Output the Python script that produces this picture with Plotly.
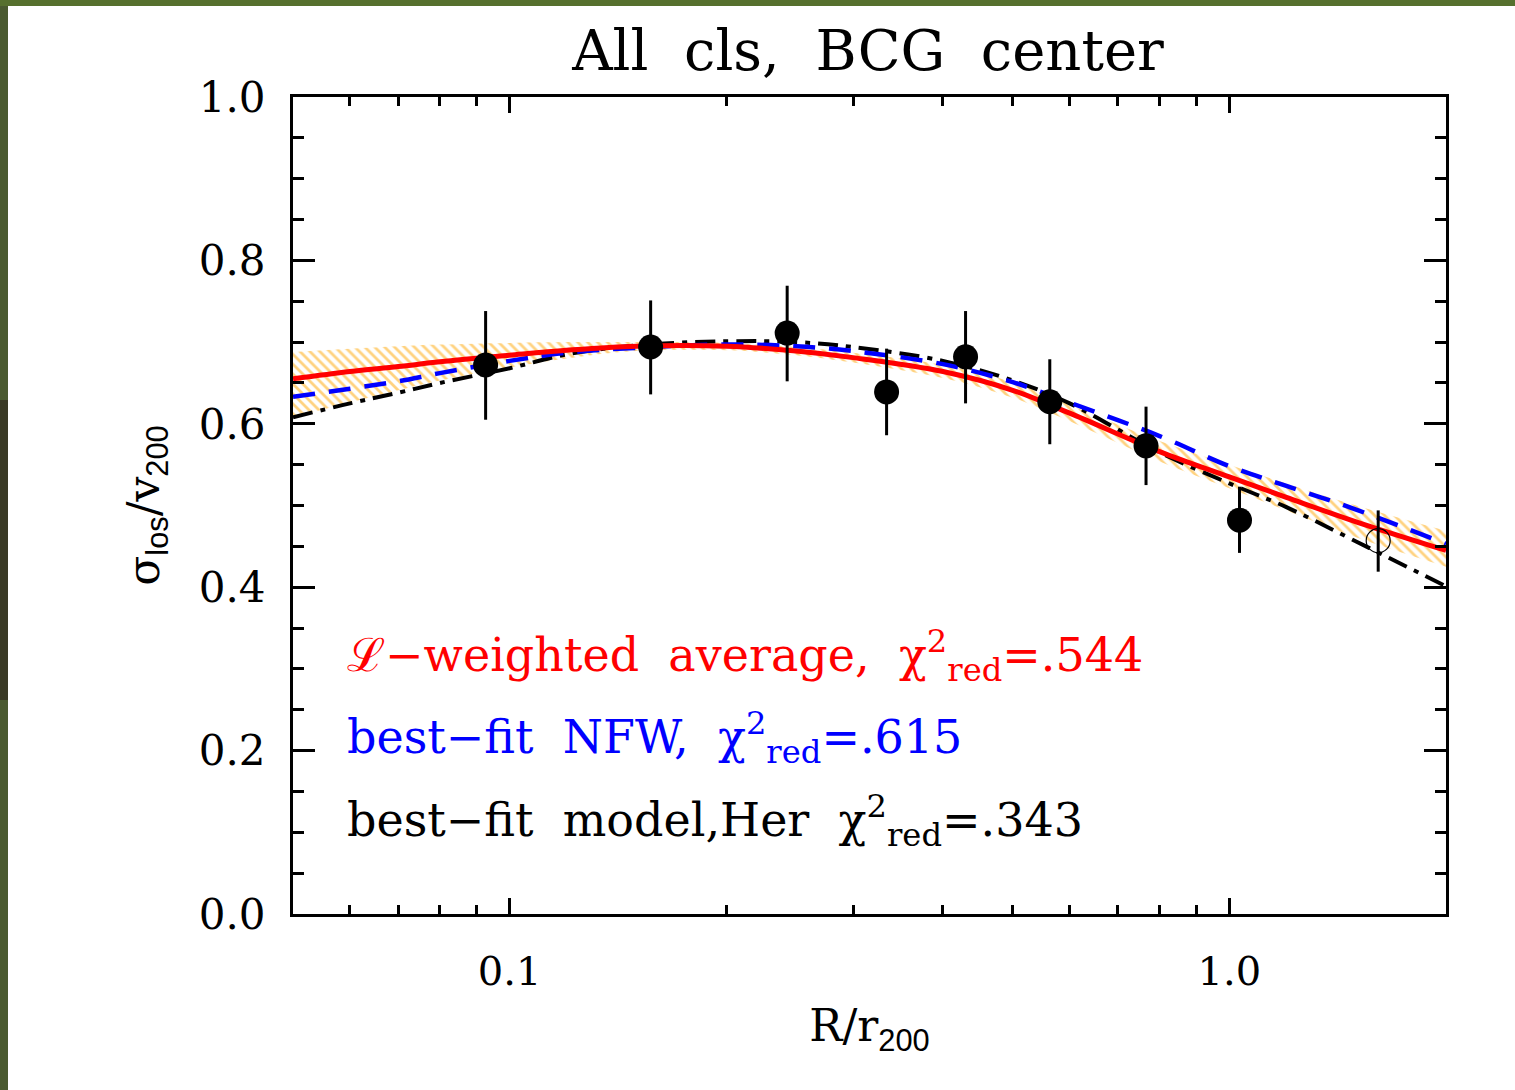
import numpy as np
import plotly.graph_objects as go

# ---------------- data ----------------
r_pts = [0.0926, 0.157, 0.243, 0.334, 0.430, 0.563, 0.766, 1.033]
s_pts = [0.672, 0.694, 0.711, 0.639, 0.682, 0.627, 0.573, 0.482]
err_up = [0.066, 0.057, 0.058, 0.053, 0.056, 0.052, 0.048, 0.041]
err_dn = [0.067, 0.058, 0.059, 0.053, 0.057, 0.052, 0.048, 0.040]

r_open = [1.61]
s_open = [0.457]
err_open_up = [0.037]
err_open_dn = [0.038]

r_grid = [0.05, 0.06, 0.07, 0.08, 0.1, 0.12, 0.15, 0.2, 0.25, 0.3, 0.4, 0.5, 0.6, 0.8, 1.0, 1.2, 1.5, 2.0]
red_avg = [0.655, 0.664, 0.670, 0.676, 0.684, 0.690, 0.695, 0.695, 0.689, 0.681, 0.664, 0.641, 0.613, 0.566, 0.535, 0.510, 0.480, 0.445]
band_hi = [0.688, 0.692, 0.695, 0.697, 0.699, 0.700, 0.700, 0.699, 0.694, 0.687, 0.672, 0.651, 0.623, 0.579, 0.550, 0.527, 0.500, 0.469]
band_lo = [0.608, 0.626, 0.641, 0.653, 0.669, 0.680, 0.689, 0.690, 0.684, 0.675, 0.656, 0.632, 0.603, 0.554, 0.521, 0.494, 0.461, 0.425]
blue_nfw = [0.633, 0.643, 0.652, 0.662, 0.677, 0.687, 0.693, 0.697, 0.695, 0.689, 0.673, 0.651, 0.626, 0.585, 0.548, 0.524, 0.495, 0.453]
black_her = [0.608, 0.625, 0.638, 0.650, 0.668, 0.685, 0.696, 0.701, 0.700, 0.694, 0.677, 0.653, 0.625, 0.565, 0.527, 0.498, 0.456, 0.401]

x_major = [0.1, 1.0]
x_major_text = ["0.1", "1.0"]
x_minor = [0.06, 0.07, 0.08, 0.09, 0.2, 0.3, 0.4, 0.5, 0.6, 0.7, 0.8, 0.9]

NB = "\u00a0"
title_text = f"All {NB}cls, {NB}BCG {NB}center"
chi = "χ<sup>2</sup><sub>red</sub>"
leg_red = f"ℒ−weighted {NB}average, {NB}{chi}=.544"
leg_blue = f"best−fit {NB}NFW, {NB}{chi}=.615"
leg_black = f"best−fit {NB}model,Her {NB}{chi}=.343"

FONT = "DejaVu Serif"

fig = go.Figure()

# hatched band
fig.add_trace(go.Scatter(x=r_grid, y=band_lo, mode="lines", line=dict(width=0, shape="spline"),
                         showlegend=False, hoverinfo="skip"))
fig.add_trace(go.Scatter(x=r_grid, y=band_hi, mode="lines", line=dict(width=0, shape="spline"),
                         fill="tonexty", fillcolor="rgba(0,0,0,0)",
                         fillpattern=dict(shape="\\", fgcolor="#FFA500", bgcolor="rgba(255,255,255,0)",
                                          size=7, solidity=0.4),
                         showlegend=False, hoverinfo="skip"))

fig.add_trace(go.Scatter(x=r_grid, y=black_her, mode="lines",
                         line=dict(color="black", width=4, dash="20px,8px,5px,8px", shape="spline"),
                         showlegend=False))
fig.add_trace(go.Scatter(x=r_grid, y=blue_nfw, mode="lines",
                         line=dict(color="blue", width=4.5, dash="22px,14px", shape="spline"),
                         showlegend=False))
fig.add_trace(go.Scatter(x=r_grid, y=red_avg, mode="lines",
                         line=dict(color="red", width=5, shape="spline"),
                         showlegend=False))

fig.add_trace(go.Scatter(x=r_pts, y=s_pts, mode="markers",
                         marker=dict(color="black", size=25),
                         error_y=dict(type="data", symmetric=False, array=err_up, arrayminus=err_dn,
                                      color="black", thickness=3, width=0),
                         showlegend=False))
fig.add_trace(go.Scatter(x=r_open, y=s_open, mode="markers",
                         marker=dict(color="rgba(0,0,0,0)", size=24, line=dict(color="black", width=1.2)),
                         error_y=dict(type="data", symmetric=False, array=err_open_up, arrayminus=err_open_dn,
                                      color="black", thickness=3, width=0),
                         showlegend=False))

W, H = 1515, 1090
L, R, T, B = 293, 69, 97, 176
pw, ph = W - L - R, H - T - B

def px2x(px):
    return (px - L) / pw

def py2y(py):
    return (H - B - py) / ph

# legend texts
for txt, col, py in [(leg_red, "red", 655), (leg_blue, "blue", 737), (leg_black, "black", 820)]:
    fig.add_annotation(x=px2x(345), y=py2y(py), xref="paper", yref="paper", text=txt,
                       showarrow=False, xanchor="left", yanchor="middle",
                       font=dict(family=FONT, size=46, color=col))

# photo-like dark border on left and top
shapes = [
    dict(type="rect", xref="paper", yref="paper", x0=px2x(0), x1=px2x(8), y0=py2y(1090), y1=py2y(0),
         fillcolor="#4a5a30", line=dict(width=0), layer="above"),
    dict(type="rect", xref="paper", yref="paper", x0=px2x(0), x1=px2x(8), y0=py2y(700), y1=py2y(400),
         fillcolor="#3a3a26", line=dict(width=0), layer="above"),
    dict(type="rect", xref="paper", yref="paper", x0=px2x(0), x1=px2x(1515), y0=py2y(6), y1=py2y(0),
         fillcolor="#56702e", line=dict(width=0), layer="above"),
]

fig.update_layout(
    width=W, height=H,
    margin=dict(l=L, r=R, t=T, b=B),
    paper_bgcolor="white", plot_bgcolor="white",
    shapes=shapes,
    title=dict(text=title_text, x=px2x(868), xref="paper", xanchor="center",
               y=1 - 50 / H, yanchor="middle", yref="container",
               font=dict(family=FONT, size=56, color="black")),
    xaxis=dict(type="log", range=[np.log10(0.05), np.log10(2.0)],
               tickvals=x_major, ticktext=x_major_text,
               ticks="inside", ticklen=16, tickwidth=2.5, tickcolor="black",
               minor=dict(tickvals=x_minor, ticks="inside", ticklen=9, tickwidth=2.5, tickcolor="black"),
               showline=True, linewidth=3, linecolor="black", mirror="allticks",
               showgrid=False, zeroline=False,
               tickfont=dict(family=FONT, size=40, color="black"),
               ticklabelstandoff=20,
               title=dict(text="R/r<sub><span style='font-family:Liberation Sans'>200</span></sub>",
                          font=dict(family=FONT, size=44, color="black"), standoff=18)),
    yaxis=dict(range=[0, 1.0], tickvals=[0, 0.2, 0.4, 0.6, 0.8, 1.0],
               ticktext=["0.0", "0.2", "0.4", "0.6", "0.8", "1.0"],
               ticks="inside", ticklen=22, tickwidth=2.5, tickcolor="black",
               minor=dict(dtick=0.05, ticks="inside", ticklen=11, tickwidth=2.5, tickcolor="black"),
               showline=True, linewidth=3, linecolor="black", mirror="allticks",
               showgrid=False, zeroline=False,
               tickfont=dict(family=FONT, size=42, color="black"),
               ticklabelstandoff=16,
               title=dict(text="σ<sub><span style='font-family:Liberation Sans'>los</span></sub>/v<sub><span style='font-family:Liberation Sans'>200</span></sub>",
                          font=dict(family=FONT, size=44, color="black"), standoff=26)),
)

fig.write_html("out.html")
